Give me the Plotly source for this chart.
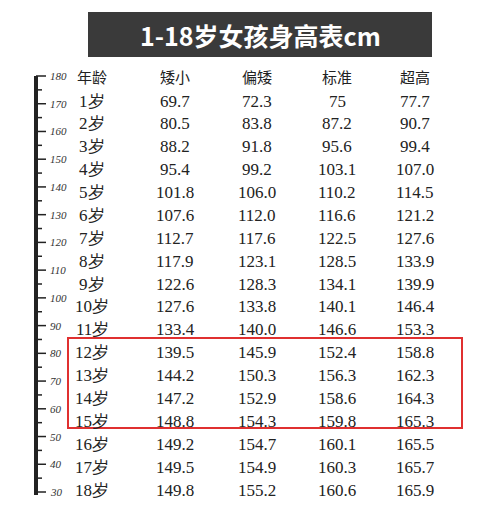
import plotly.graph_objects as go

ages = [f"{i}岁" for i in range(1, 19)]
headers = ["年龄", "矮小", "偏矮", "标准", "超高"]
short = [69.7, 80.5, 88.2, 95.4, 101.8, 107.6, 112.7, 117.9, 122.6, 127.6, 133.4, 139.5, 144.2, 147.2, 148.8, 149.2, 149.5, 149.8]
below = [72.3, 83.8, 91.8, 99.2, 106.0, 112.0, 117.6, 123.1, 128.3, 133.8, 140.0, 145.9, 150.3, 152.9, 154.3, 154.7, 154.9, 155.2]
standard = [75, 87.2, 95.6, 103.1, 110.2, 116.6, 122.5, 128.5, 134.1, 140.1, 146.6, 152.4, 156.3, 158.6, 159.8, 160.1, 160.3, 160.6]
tall = [77.7, 90.7, 99.4, 107.0, 114.5, 121.2, 127.6, 133.9, 139.9, 146.4, 153.3, 158.8, 162.3, 164.3, 165.3, 165.5, 165.7, 165.9]
ruler_labels = [180, 170, 160, 150, 140, 130, 120, 110, 100, 90, 80, 70, 60, 50, 40, 30]

O = 8  # page offset compensation
fig = go.Figure()
col_x = [92 - O, 175 - O, 257 - O, 337 - O, 415 - O]
row0 = 76 - O
dy = (490 - 101) / 17
serif = "'Liberation Serif', 'DejaVu Serif', serif"
ann = []
for j, h in enumerate(headers):
    ann.append(dict(x=col_x[j], y=row0, text=h, showarrow=False,
                    font=dict(size=15, family="Noto Sans CJK SC", color="#222")))
for i in range(18):
    y = 101 - O + i * dy
    ann.append(dict(x=col_x[0], y=y, text=ages[i], showarrow=False,
                    font=dict(size=17, family=serif, color="#222")))
    for j, series in enumerate([short, below, standard, tall]):
        v = series[i]
        t = str(v) if isinstance(v, int) else f"{v:.1f}"
        ann.append(dict(x=col_x[j + 1], y=y, text=t, showarrow=False,
                        font=dict(size=17, family=serif, color="#222")))
ann.append(dict(x=260 - O, y=35 - O, text="<b>1-18岁女孩身高表cm</b>", showarrow=False,
                font=dict(size=25, family="Noto Sans CJK SC", color="white")))

def ry(v):
    return 76 - O + (180 - v) * (492 - 76) / 150

X = 36 - O
shapes = [
    dict(type="rect", x0=88 - O, x1=432 - O, y0=12 - O, y1=57 - O, fillcolor="#3a3a3a", line=dict(width=0), layer="below"),
    dict(type="rect", x0=68 - O, x1=462 - O, y0=338 - O, y1=428 - O, line=dict(color="#e03030", width=2)),
    dict(type="line", x0=X, x1=X, y0=ry(180), y1=ry(30) + 3, line=dict(color="#222", width=4)),
]
for v in range(30, 181, 5):
    L = 10 if v % 10 == 0 else 6
    shapes.append(dict(type="line", x0=X, x1=X + L, y0=ry(v), y1=ry(v), line=dict(color="#222", width=1.5)))
for v in ruler_labels:
    ann.append(dict(x=X + 12, y=ry(v), text=f"<i>{v}</i>", showarrow=False, xanchor="left",
                    font=dict(size=11, family=serif, color="#333")))

fig.update_layout(width=503, height=506, margin=dict(l=0, r=0, t=0, b=0),
                  paper_bgcolor="white", plot_bgcolor="white",
                  xaxis=dict(range=[0, 503], visible=False, fixedrange=True),
                  yaxis=dict(range=[506, 0], visible=False, fixedrange=True),
                  shapes=shapes, annotations=ann, showlegend=False)
fig.write_html("out.html")
